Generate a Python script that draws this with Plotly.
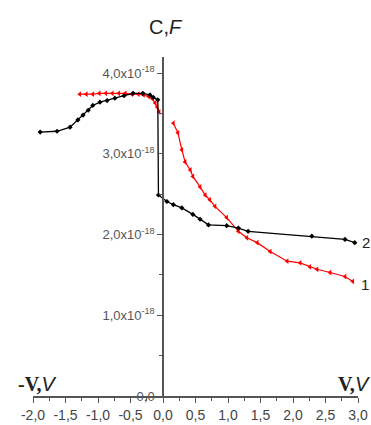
import plotly.graph_objects as go

# Series 2 (black)
v2 = [-1.89, -1.63, -1.43, -1.31, -1.23, -1.15, -1.08, -0.97, -0.86, -0.74, -0.60, -0.46,
      -0.31, -0.20, -0.15, -0.08, -0.07, 0.06, 0.16, 0.29, 0.46, 0.57, 0.70, 0.98, 1.16,
      1.31, 2.29, 2.80, 2.95]
c2 = [3.27, 3.28, 3.33, 3.42, 3.48, 3.54, 3.60, 3.64, 3.66, 3.69, 3.72, 3.75,
      3.75, 3.73, 3.70, 3.67, 2.49, 2.41, 2.37, 2.33, 2.25, 2.19, 2.12, 2.11, 2.08,
      2.04, 1.98, 1.94, 1.90]

# Series 1 (red), reverse branch
v1_neg = [-1.28, -1.18, -1.08, -0.98, -0.88, -0.78, -0.68, -0.58, -0.48, -0.38, -0.30,
          -0.22, -0.16, -0.12, -0.09, -0.06]
c1_neg = [3.74, 3.74, 3.74, 3.75, 3.75, 3.75, 3.75, 3.75, 3.74, 3.74, 3.73,
          3.71, 3.68, 3.63, 3.58, 3.52]
# Series 1 (red), forward branch
v1_pos = [0.16, 0.23, 0.29, 0.34, 0.42, 0.46, 0.57, 0.65, 0.72, 0.80, 0.98, 1.16, 1.29,
          1.45, 1.65, 1.91, 2.11, 2.26, 2.37, 2.57, 2.80, 2.92]
c1_pos = [3.38, 3.26, 3.05, 2.90, 2.80, 2.72, 2.59, 2.49, 2.43, 2.35, 2.21, 2.04, 1.96,
          1.90, 1.79, 1.67, 1.65, 1.60, 1.57, 1.53, 1.48, 1.42]

x_ticks = [-2.0, -1.5, -1.0, -0.5, 0.0, 0.5, 1.0, 1.5, 2.0, 2.5, 3.0]
x_labels = ["-2,0", "-1,5", "-1,0", "-0,5", "0,0", "0,5", "1,0", "1,5", "2,0", "2,5", "3,0"]
y_ticks = [0, 1, 2, 3, 4]
y_labels = ["0,0", "1,0x10<sup>-18</sup>", "2,0x10<sup>-18</sup>",
            "3,0x10<sup>-18</sup>", "4,0x10<sup>-18</sup>"]

fig = go.Figure()
fig.add_trace(go.Scatter(x=v1_neg, y=c1_neg, mode="lines+markers",
                         line=dict(color="#ff0000", width=1.2),
                         marker=dict(symbol="triangle-left", size=5, color="#ff0000"),
                         showlegend=False))
fig.add_trace(go.Scatter(x=v1_pos, y=c1_pos, mode="lines+markers",
                         line=dict(color="#ff0000", width=1.2),
                         marker=dict(symbol="triangle-left", size=5, color="#ff0000"),
                         showlegend=False))
fig.add_trace(go.Scatter(x=v2, y=c2, mode="lines+markers",
                         line=dict(color="#000000", width=1.3),
                         marker=dict(symbol="diamond", size=4, color="#000000"),
                         showlegend=False))

tickfont = dict(family="Liberation Sans Narrow, Liberation Sans, Arial", size=14, color="#444")
fig.update_layout(
    width=371, height=425,
    margin=dict(l=33, r=13, t=57, b=29),
    paper_bgcolor="white", plot_bgcolor="white",
    xaxis=dict(range=[-2.0, 3.0], tickvals=x_ticks, ticktext=x_labels,
               automargin=False,
               showgrid=False, zeroline=False, showline=True, linecolor="#555",
               linewidth=1.5, ticks="outside", ticklen=5, tickcolor="#555",
               ticklabelstandoff=0,
               minor=dict(dtick=0.25, ticks="outside", ticklen=3, tickcolor="#555"),
               tickfont=tickfont),
    yaxis=dict(range=[0, 4.2], tickvals=y_ticks, ticktext=y_labels,
               anchor="free", position=0.4, automargin=False,
               showgrid=False, zeroline=False, showline=True, linecolor="#555",
               linewidth=1.5, ticks="outside", ticklen=5, tickcolor="#555",
               minor=dict(tickvals=[0.5, 1.5, 2.5, 3.5], ticks="outside", ticklen=3, tickcolor="#555"),
               tickfont=dict(family="Liberation Sans Narrow, Liberation Sans, Arial", size=13, color="#555")),
)

fig.add_annotation(x=0.4, y=1.0, xref="paper", yref="paper", xshift=3, yshift=17,
                   text="C,<i>F</i>", showarrow=False,
                   font=dict(family="Liberation Sans, Arial", size=20, color="#222"),
                   xanchor="center", yanchor="bottom")
fig.add_annotation(x=-2.0, y=0, xref="x", yref="y", xshift=-17, yshift=-1,
                   text="<span style='font-family:Liberation Serif;font-weight:bold'>-V,</span><i>V</i>",
                   showarrow=False, font=dict(family="Liberation Sans, Arial", size=20, color="#222"),
                   xanchor="left", yanchor="bottom")
fig.add_annotation(x=3.0, y=0, xref="x", yref="y", xshift=-22, yshift=-1,
                   text="<span style='font-family:Liberation Serif;font-weight:bold'>V,</span><i>V</i>",
                   showarrow=False, font=dict(family="Liberation Sans, Arial", size=20, color="#222"),
                   xanchor="left", yanchor="bottom")
fig.add_annotation(x=v2[-1], y=c2[-1], xref="x", yref="y", xshift=5, yshift=0,
                   text="2", showarrow=False, xanchor="left", yanchor="middle",
                   font=dict(family="Liberation Sans, Arial", size=15, color="#222"))
fig.add_annotation(x=v1_pos[-1], y=c1_pos[-1], xref="x", yref="y", xshift=6, yshift=-3,
                   text="1", showarrow=False, xanchor="left", yanchor="middle",
                   font=dict(family="Liberation Sans, Arial", size=15, color="#222"))

fig.write_html("out.html")
